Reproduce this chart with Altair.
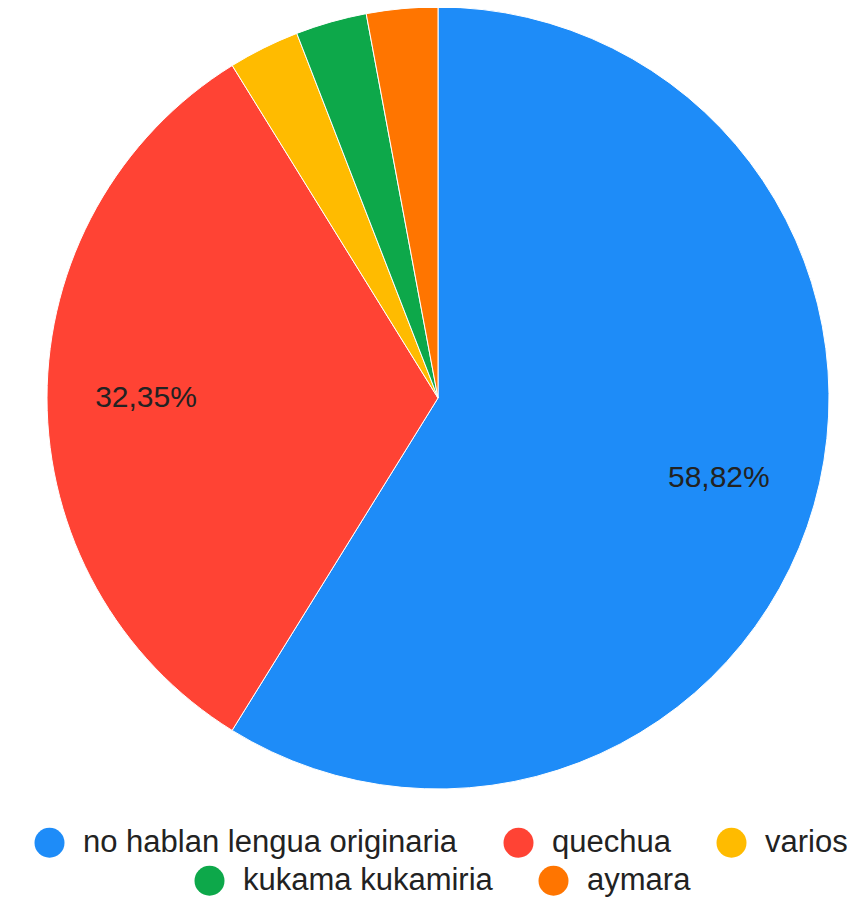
import altair as alt
import pandas as pd

categorias = ["no hablan lengua originaria", "quechua", "varios", "kukama kukamiria", "aymara"]
porcentajes = [58.82, 32.35, 2.94, 2.94, 2.94]
colores = ["#1E8CF8", "#FF4334", "#FFBB00", "#0DA84A", "#FF7500"]
fila = [1, 1, 1, 2, 2]
orden = [0, 1, 2, 3, 4]

df = pd.DataFrame({"cat": categorias, "pct": porcentajes, "fila": fila, "orden": orden})
total = sum(porcentajes)

fila1 = [c for c, f in zip(categorias, fila) if f == 1]
col1 = [c for c, f in zip(colores, fila) if f == 1]
fila2 = [c for c, f in zip(categorias, fila) if f == 2]
col2 = [c for c, f in zip(colores, fila) if f == 2]

theta_scale = alt.Scale(domain=[0, total])
FONT = "Liberation Sans"

base = (
    alt.Chart(df)
    .transform_window(acum="sum(pct)", sort=[alt.SortField("orden")], frame=[None, 0])
    .transform_calculate(ini="datum.acum - datum.pct", mid="datum.acum - datum.pct / 2",
                         etiqueta="replace(format(datum.pct, '.2f'), '.', ',') + '%'")
)

def legend(x, y):
    return alt.Legend(orient="none", direction="horizontal", legendX=x, legendY=y, title=None,
                      symbolType="circle", symbolSize=900, symbolStrokeWidth=0,
                      labelFontSize=31, labelFont=FONT, labelColor="#222222",
                      labelOffset=18, columnPadding=45, labelLimit=600)

arc_kw = dict(outerRadius=391, stroke="white", strokeWidth=1)

capa1 = base.transform_filter("datum.fila == 1").mark_arc(**arc_kw).encode(
    theta=alt.Theta("ini:Q", scale=theta_scale),
    theta2="acum:Q",
    color=alt.Color("cat:N", scale=alt.Scale(domain=fila1, range=col1), legend=legend(26, 819)),
    x=alt.value(430), y=alt.value(390),
)

capa2 = base.transform_filter("datum.fila == 2").mark_arc(**arc_kw).encode(
    theta=alt.Theta("ini:Q", scale=theta_scale),
    theta2="acum:Q",
    color=alt.Color("cat:N", scale=alt.Scale(domain=fila2, range=col2), legend=legend(186, 857)),
    x=alt.value(430), y=alt.value(390),
)

textos = base.transform_filter("datum.pct > 5").mark_text(
    radius=292, fontSize=30, font=FONT, color="#222222"
).encode(
    theta=alt.Theta("mid:Q", scale=theta_scale),
    text="etiqueta:N",
    x=alt.value(430), y=alt.value(390),
)

chart = (
    alt.layer(capa1, capa2, textos)
    .resolve_scale(color="independent")
    .properties(width=839, height=892, padding=0, autosize=alt.AutoSizeParams(type="none"))
    .configure_view(strokeWidth=0, stroke="transparent", fill="white")
)

chart.save("out.html", embed_options={"renderer": "svg", "actions": False})
